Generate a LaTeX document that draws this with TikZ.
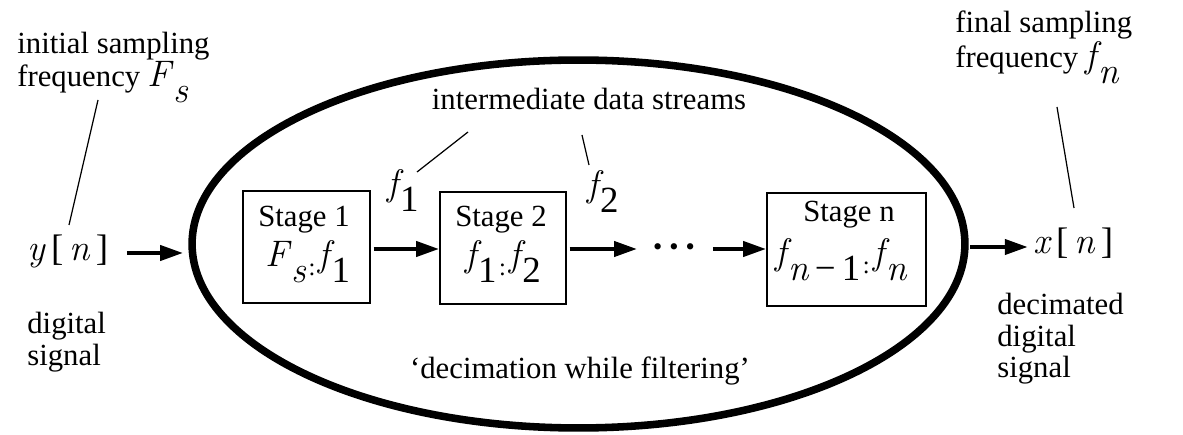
\documentclass[tikz,border=0pt]{standalone}
\usepackage{fontspec}
\setmainfont{Liberation Serif}
\newfontfamily\lmfam{Latin Modern Roman}
\usetikzlibrary{arrows.meta,shapes.geometric}
\newcommand{\iv}[1]{{\lmfam\itshape #1}}
\newcommand{\lo}[1]{\raisebox{-9pt}{#1}}
\newcommand{\cln}{\hspace{1.5pt}\raisebox{-5pt}{\fontsize{14}{14}\selectfont :}\hspace{2pt}}
\newcommand{\mth}[1]{{\fontsize{21}{21}\selectfont #1}}
\begin{document}
\begin{tikzpicture}[x=0.02cm,y=-0.02cm,
  every node/.style={font=\fontsize{17.5}{18.5}\selectfont, inner sep=0pt},
  arr/.style={line width=2.3pt,-{Triangle[length=13pt,width=8.5pt]}},
  leader/.style={line width=0.7pt},
  stagebox/.style={draw, line width=1.1pt, rectangle},
  txt/.style={anchor=north west, align=left}]
\useasboundingbox (0,0) rectangle (1183,435);
% enclosure
\node[draw, ellipse, line width=4.3pt, minimum width=15.46cm, minimum height=7.36cm] (ell) at (578.5,244) {};
% boxes
\node[stagebox, minimum width=2.54cm, minimum height=2.24cm] (s1) at (306.5,247) {};
\node[stagebox, minimum width=2.52cm, minimum height=2.24cm] (s2) at (503,248) {};
\node[stagebox, minimum width=3.18cm, minimum height=2.26cm] (sn) at (846.5,249.5) {};
\node[anchor=base] (s1t) at (304,227) {Stage 1};
\node[anchor=base] (s1f) at (308,267) {\mth{\iv{F}\hspace{1pt}\lo{\iv{s}}\cln\iv{f}\hspace{1pt}\lo{1}}};
\node[anchor=base] (s2t) at (501,227) {Stage 2};
\node[anchor=base] (s2f) at (503,267) {\mth{\iv{f}\hspace{1pt}\lo{1}\cln\iv{f}\hspace{1pt}\lo{2}}};
\node[anchor=base] (snt) at (849,222) {Stage n};
\node[anchor=base] (snf) at (841,265) {\mth{\iv{f}\hspace{1pt}\lo{\iv{n}\,−\,1}\cln\iv{f}\hspace{1pt}\lo{\iv{n}}}};
% dots
\node[anchor=base] (dots) at (674,255.5) {\fontsize{15}{15}\selectfont •\hspace{4pt}•\hspace{4pt}•};
% signals
\node[anchor=base west] (yn) at (27,261) {\mth{\iv{y}\,[\,\iv{n}\,]}};
\node[anchor=base west] (xn) at (1033,254) {\mth{\iv{x}\,[\,\iv{n}\,]}};
% labels
\node[txt, font=\fontsize{17.5}{18.8}\selectfont] (init) at (17,32) {initial sampling\\frequency \mth{\iv{F}\hspace{1pt}\lo{\iv{s}}}};
\node[txt, font=\fontsize{17.5}{17.5}\selectfont] (final) at (955,11) {final sampling\\frequency \mth{\iv{f}\hspace{1pt}\lo{\iv{n}}}};
\node[txt, font=\fontsize{17.5}{18.3}\selectfont] (dsig) at (27,312) {digital\\signal};
\node[txt, font=\fontsize{17.5}{18}\selectfont] (ddsig) at (997,293) {decimated\\digital\\signal};
\node[anchor=base] (inter) at (589,110) {intermediate data streams};
\node[anchor=base] (dwf) at (580,378) {‘decimation while filtering’};
\node[anchor=base west] (f1) at (387,196) {\mth{\iv{f}\hspace{1pt}\lo{1}}};
\node[anchor=base west] (f2) at (587,197) {\mth{\iv{f}\hspace{1pt}\lo{2}}};
% leader line ends
\coordinate (l1a) at (98,100);
\coordinate (l1b) at (69,225);
\coordinate (l2a) at (468,132);
\coordinate (l2b) at (417,172);
\coordinate (l3a) at (582,135);
\coordinate (l3b) at (589,165);
\coordinate (l4a) at (1057,107);
\coordinate (l4b) at (1074,208);
\draw[leader] (l1a) -- (l1b);
\draw[leader] (l2a) -- (l2b);
\draw[leader] (l3a) -- (l3b);
\draw[leader] (l4a) -- (l4b);
% arrows
\draw[arr, shorten <=10.5pt, shorten >=3pt] (yn.east |- 0,253) -- (ell.west |- 0,253);
\draw[arr, shorten <=1.5pt] (s1.east |- 0,249) -- (s2.west |- 0,249);
\draw[arr, shorten <=1.5pt, shorten >=9pt] (s2.east |- 0,249) -- (dots.west |- 0,249);
\draw[arr, shorten <=10pt] (dots.east |- 0,249) -- (sn.west |- 0,249);
\draw[arr, shorten <=1pt, shorten >=3pt] (ell.east |- 0,247) -- (xn.west |- 0,247);
\end{tikzpicture}
\end{document}
